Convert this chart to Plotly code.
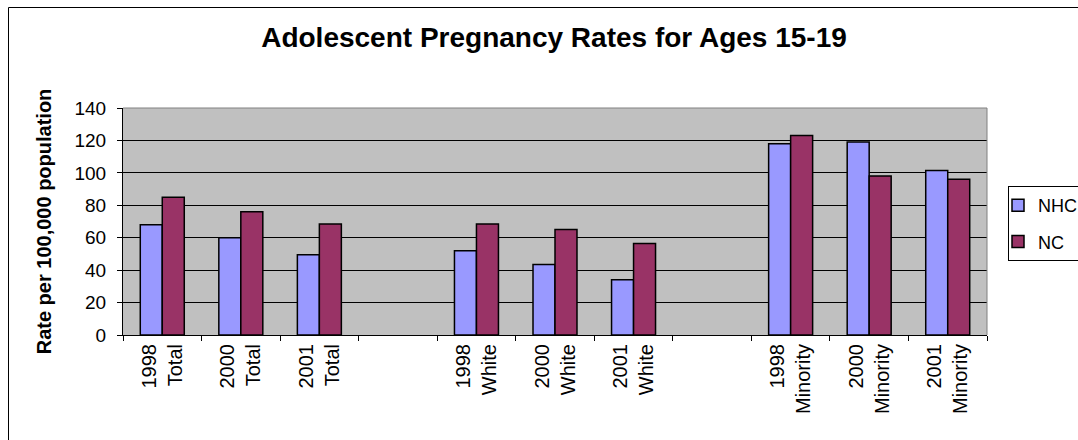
import plotly.graph_objects as go

# ---- data ----
categories = [
    "1998<br>Total", "2000<br>Total", "2001<br>Total", " ",
    "1998<br>White", "2000<br>White", "2001<br>White", "  ",
    "1998<br>Minority", "2000<br>Minority", "2001<br>Minority",
]
nhc_values = [68, 60, 49.5, None, 52, 43.5, 34, None, 118, 119, 101.5]
nc_values = [85, 76, 68.5, None, 68.5, 65, 56.5, None, 123, 98, 96]
series_names = ["NHC", "NC"]
y_ticks = [0, 20, 40, 60, 80, 100, 120, 140]

FONT = "Arial, 'Liberation Sans', sans-serif"
W, H = 1078, 440
ML, MR, MT, MB = 123, 91, 108, 105
PW, PH = W - ML - MR, H - MT - MB

def px_x(p):
    return (p - ML) / PW

def px_y(p):
    return (H - MB - p) / PH

fig = go.Figure()
fig.add_trace(go.Bar(
    x=categories, y=nhc_values, name=series_names[0], legendgroup="a",
    marker=dict(color="#9999FF", line=dict(color="black", width=1.5)),
))
fig.add_trace(go.Bar(
    x=categories, y=nc_values, name=series_names[1], legendgroup="b",
    marker=dict(color="#993366", line=dict(color="black", width=1.5)),
))

fig.update_layout(
    width=W, height=H,
    margin=dict(l=ML, r=MR, t=MT, b=MB, autoexpand=False),
    paper_bgcolor="white",
    plot_bgcolor="#C0C0C0",
    barmode="group", bargap=0.44, bargroupgap=0,
    font=dict(family=FONT, color="black", size=18),
    title=dict(
        text="<b>Adolescent Pregnancy Rates for Ages 15-19</b>",
        font=dict(size=28, family=FONT, color="black"),
        x=px_x(554), xref="paper", xanchor="center",
        y=1 - 37 / H, yref="container", yanchor="middle",
    ),
    legend=dict(
        x=px_x(1008), y=px_y(186), xanchor="left", yanchor="top",
        bordercolor="black", borderwidth=1, bgcolor="white",
        font=dict(size=18, family=FONT), traceorder="grouped", tracegroupgap=10,
        indentation=-11,
    ),
    xaxis=dict(
        type="category", categoryorder="array", categoryarray=categories,
        tickson="boundaries", ticks="outside", ticklen=5, tickcolor="black",
        tickangle=-90, showline=True, linecolor="black", linewidth=1,
        showgrid=False, tickfont=dict(size=20, family=FONT),
        fixedrange=True,
    ),
    yaxis=dict(
        range=[0, 140], tickvals=y_ticks, ticks="outside", ticklen=5,
        tickcolor="black", showline=True, linecolor="black", linewidth=1,
        showgrid=True, gridcolor="black", gridwidth=1, zeroline=False,
        tickfont=dict(size=19, family=FONT), ticklabelstandoff=7,
        title=dict(text="<b>Rate per 100,000 population</b>",
                   font=dict(size=20, family=FONT), standoff=17),
    ),
    shapes=[
        # chart area border (only top/left visible)
        dict(type="rect", xref="paper", yref="paper",
             x0=px_x(8.5), x1=px_x(1200), y0=px_y(600), y1=px_y(7.5),
             line=dict(color="black", width=1), fillcolor="rgba(0,0,0,0)", layer="below"),
        # plot area top / right border
        dict(type="line", xref="paper", yref="paper", x0=0, x1=1, y0=1, y1=1,
             line=dict(color="#808080", width=1), layer="above"),
        dict(type="line", xref="paper", yref="paper", x0=1, x1=1, y0=0, y1=1,
             line=dict(color="#808080", width=1), layer="above"),
    ],
)

fig.write_html("out.html")
